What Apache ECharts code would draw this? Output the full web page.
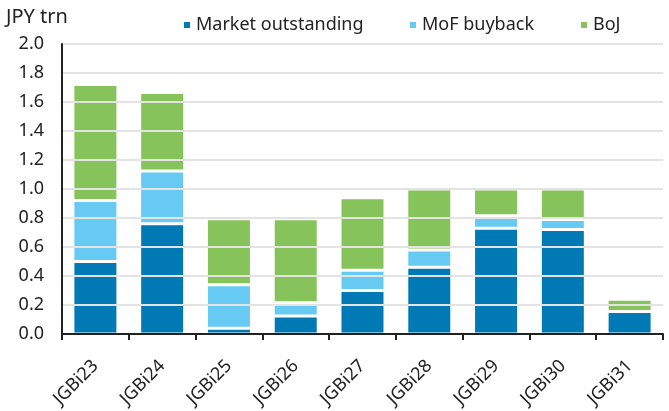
<!DOCTYPE html>
<html>
<head>
<meta charset="utf-8">
<script src="https://cdn.jsdelivr.net/npm/echarts@6/dist/echarts.min.js"></script>
<style>
html,body{margin:0;padding:0;background:#fff;}
#chart{width:669px;height:411px;}
</style>
</head>
<body>
<div id="chart"></div>
<script>
var categories = ['JGBi23','JGBi24','JGBi25','JGBi26','JGBi27','JGBi28','JGBi29','JGBi30','JGBi31'];
var marketOutstanding = [0.50, 0.76, 0.04, 0.125, 0.30, 0.46, 0.73, 0.72, 0.155];
var mofBuyback = [0.42, 0.365, 0.30, 0.09, 0.14, 0.12, 0.085, 0.07, 0];
var boj = [0.80, 0.54, 0.455, 0.58, 0.50, 0.42, 0.185, 0.21, 0.085];
var seriesNames = ['Market outstanding', 'MoF buyback', 'BoJ'];
var colors = ['#0079B5', '#66CAF3', '#86C35A'];
var yTicks = [0, 0.2, 0.4, 0.6, 0.8, 1.0, 1.2, 1.4, 1.6, 1.8, 2.0];

var FONT = 'Noto Sans';
var chart = echarts.init(document.getElementById('chart'));
function mk(name, data, color) {
  return {
    name: name, type: 'bar', stack: 'total', data: data, barWidth: 45,
    itemStyle: { color: color, borderColor: '#fff', borderWidth: 1.5 }
  };
}
var legendLefts = [182, 408, 579];
function lg(i) {
  return {
    data: [seriesNames[i]], left: legendLefts[i], top: 16, padding: 0,
    itemWidth: 8, itemHeight: 8, icon: 'rect',
    textStyle: { fontFamily: FONT, fontSize: 18, color: '#222' }
  };
}
chart.setOption({
  animation: false,
  color: colors,
  textStyle: { fontFamily: FONT },
  title: {
    text: 'JPY trn', left: 1, top: 2,
    textStyle: { fontFamily: FONT, fontSize: 20, fontWeight: 'normal', color: '#222' }
  },
  legend: [lg(0), lg(1), lg(2)],
  grid: { left: 62, right: 6, top: 44, bottom: 77, containLabel: false },
  xAxis: {
    type: 'category', data: categories, z: 10,
    axisLine: { lineStyle: { color: '#222', width: 2 } },
    axisTick: { show: true, length: 6, lineStyle: { color: '#222', width: 2 } },
    axisLabel: { rotate: 45, margin: 29, fontFamily: FONT, fontSize: 18, color: '#222' }
  },
  yAxis: {
    type: 'value', min: 0, max: 2.0, interval: 0.2, z: 10,
    axisLine: { show: true, lineStyle: { color: '#222', width: 2 } },
    axisTick: { show: false },
    axisLabel: {
      margin: 18, fontFamily: FONT, fontSize: 18, color: '#222',
      formatter: function (v) { return v.toFixed(1); }
    },
    splitLine: { lineStyle: { color: '#e3e3e3', width: 2 } }
  },
  series: [
    mk(seriesNames[0], marketOutstanding, colors[0]),
    mk(seriesNames[1], mofBuyback, colors[1]),
    mk(seriesNames[2], boj, colors[2])
  ]
});
</script>
</body>
</html>
